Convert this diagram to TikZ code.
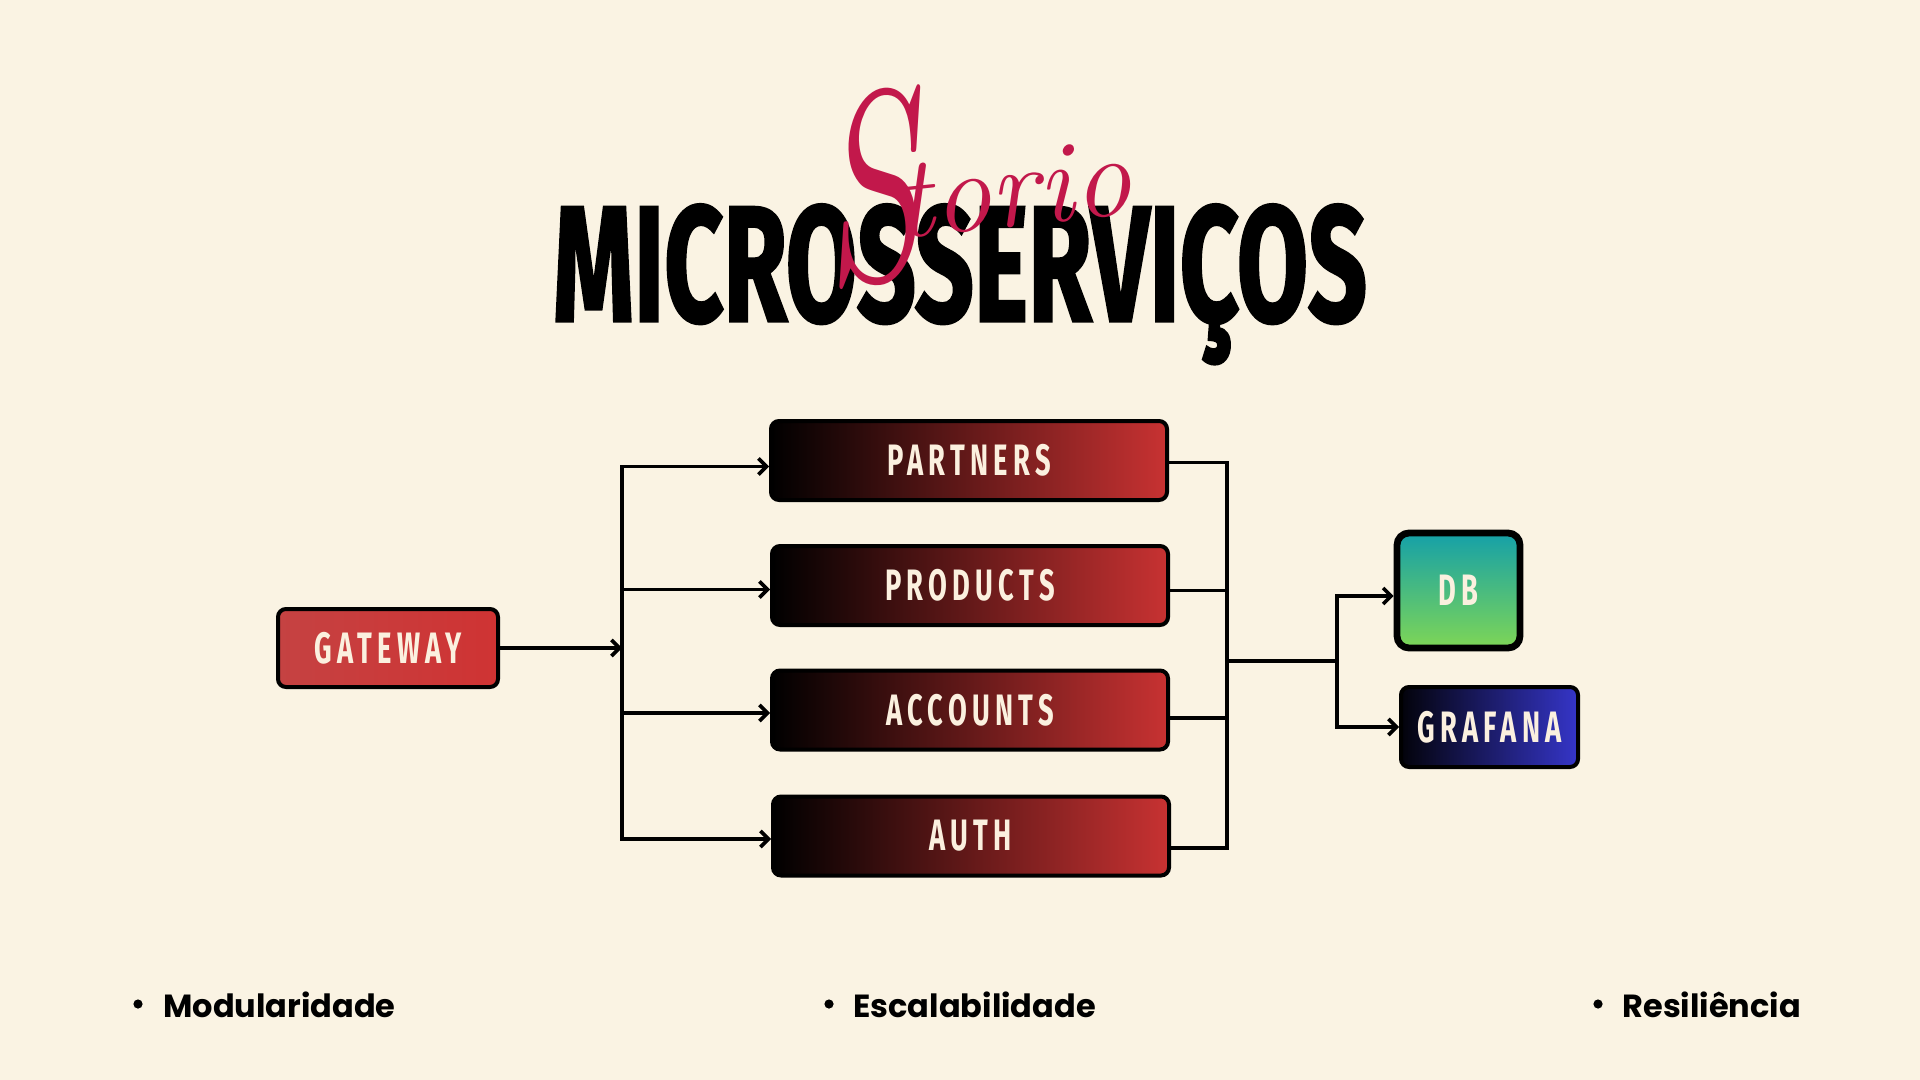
\documentclass[tikz,border=0pt]{standalone}
\usepackage{fontspec}
\usepackage{graphicx}
\usetikzlibrary{arrows.meta,calc}
\setmainfont{Poppins}
\newfontfamily\titlefont{Fira Sans}[FakeBold=2]
\newfontfamily\labelfont{Fira Sans}[FakeStretch=0.62, LetterSpace=12]
\newfontfamily\brandfont{Latin Modern Roman}

\definecolor{paper}{HTML}{FAF3E3}
\definecolor{cream}{HTML}{FBF0DF}
\definecolor{crimson}{HTML}{C2184B}
\definecolor{svcred}{HTML}{C83232}
\definecolor{gwleft}{HTML}{C54242}
\definecolor{gwright}{HTML}{CF3333}
\definecolor{teal}{HTML}{15A0A8}
\definecolor{leaf}{HTML}{7ED656}
\definecolor{indigo}{HTML}{3535C8}

\tikzset{
  box/.style={draw=black, line width=2pt, rounded corners=4pt, text=cream,
    font=\labelfont\bfseries\fontsize{22}{22}\selectfont, inner sep=0pt},
  gatebox/.style={box, minimum width=110pt, minimum height=39pt, left color=gwleft, right color=gwright},
  svcbox/.style={box, minimum width=198pt, minimum height=39.5pt, left color=black, right color=svcred},
  dbbox/.style={box, line width=3.4pt, rounded corners=6pt, minimum width=61.5pt, minimum height=57.5pt,
    top color=teal, middle color=leaf, bottom color=leaf},
  grafbox/.style={box, minimum width=88.5pt, minimum height=40pt, left color=black!95!indigo, right color=indigo},
  wire/.style={draw=black, line width=1.8pt},
  arr/.style={wire, -{Straight Barb[length=4pt,width=8pt]}},
  twoarr/.style={wire, {Straight Barb[length=4pt,width=8pt]}-{Straight Barb[length=4pt,width=8pt]}},
  dot/.style={circle, fill=black, inner sep=0pt, minimum size=4.6pt},
  point/.style={anchor=base west, inner sep=0pt, font=\bfseries\fontsize{16}{16}\selectfont},
}

\begin{document}
\begin{tikzpicture}[x=0.5pt,y=-0.5pt]
  % page
  \fill[paper] (0,0) rectangle (1920,1080);
  \useasboundingbox (0,0) rectangle (1920,1080);

  % heading and signature
  \node[anchor=base, inner sep=0pt] (title) at (960,321)
    {\resizebox{407pt}{\height}{\titlefont\bfseries\fontsize{82}{82}\selectfont MICROSSERVIÇOS}};
  \node[anchor=base west, inner sep=0pt, text=crimson, rotate=6] (brand) at (826,286)
    {\brandfont\itshape\scalebox{0.68}[1]{\fontsize{135}{135}\selectfont S}\kern-12pt\raisebox{20pt}{\fontsize{58}{58}\selectfont torio}};

  % services
  \node[gatebox] (gw) at (388,648) {GATEWAY};
  \node[svcbox] (partners) at (969,460.5) {PARTNERS};
  \node[svcbox] (products) at (970,585.5) {PRODUCTS};
  \node[svcbox] (accounts) at (970,710) {ACCOUNTS};
  \node[svcbox] (auth) at (971,836) {AUTH};
  \node[dbbox] (db) at (1458.5,590.5) {DB};
  \node[grafbox] (graf) at (1489.5,727) {GRAFANA};

  % fan-out from the gateway
  \coordinate (bus) at (622,648);
  \coordinate (in1) at ([yshift=-3pt]partners.west);
  \coordinate (in2) at ([yshift=-2pt]products.west);
  \coordinate (in3) at ([yshift=-1.5pt]accounts.west);
  \coordinate (in4) at ([yshift=-1.5pt]auth.west);
  \draw[arr] (gw.east) -- (bus);
  \draw[twoarr] (in1) -- (bus |- in1) -- (bus |- in4) -- (in4);
  \draw[arr] (bus |- in2) -- (in2);
  \draw[arr] (bus |- in3) -- (in3);

  % fan-in to storage and monitoring
  \coordinate (join) at (1227,661);
  \coordinate (split) at (1337,661);
  \coordinate (out1) at ([yshift=-1pt]partners.east);
  \coordinate (out2) at ([yshift=-2.5pt]products.east);
  \coordinate (out3) at ([yshift=-4pt]accounts.east);
  \coordinate (out4) at ([yshift=-6pt]auth.east);
  \draw[wire] (out1) -- (join |- out1) -- (join |- out4) -- (out4);
  \draw[wire] (out2) -- (join |- out2);
  \draw[wire] (out3) -- (join |- out3);
  \draw[wire] (join) -- (split);
  \coordinate (dbin) at ([yshift=-2.75pt]db.west);
  \coordinate (grin) at (graf.west);
  \draw[twoarr] (dbin) -- (split |- dbin) -- (split |- grin) -- (grin);

  % key qualities
  \node[dot] (d1) at (138,1004) {};
  \node[point] (p1) at (163,1017) {Modularidade};
  \node[dot] (d2) at (829,1004) {};
  \node[point] (p2) at (853,1017) {Escalabilidade};
  \node[dot] (d3) at (1598,1004) {};
  \node[point] (p3) at (1622,1017) {Resiliência};
\end{tikzpicture}
\end{document}
